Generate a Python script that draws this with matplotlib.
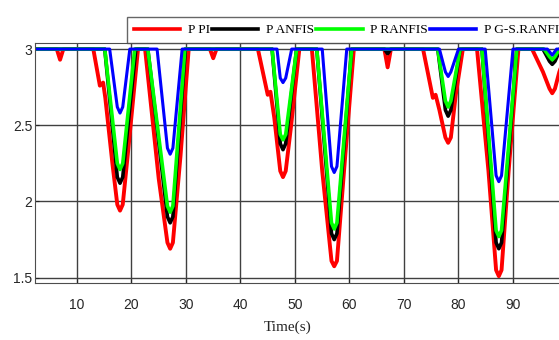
import matplotlib
matplotlib.use('Agg')
import matplotlib.pyplot as plt

## data (time in s, value)
t_pi = [2.3, 6.3, 6.9, 7.5, 13.0, 14.2, 14.8, 15.2, 16.5, 17.4, 17.9, 18.4, 19.3, 21.2,
        22.5, 25.0, 26.6, 27.1, 27.6, 29.0, 30.5, 34.4, 35.0, 35.6,
        43.2, 45.0, 45.5, 46.2, 47.3, 47.8, 48.3, 49.3, 50.8,
        53.1, 55.0, 56.7, 57.2, 57.7, 59.0, 60.8, 66.4, 67.0, 67.6,
        73.5, 75.3, 75.8, 76.5, 77.6, 78.1, 78.6, 79.5, 80.8,
        83.4, 85.5, 86.9, 87.4, 87.9, 89.2, 91.0, 93.5, 95.5, 96.7, 97.2, 97.7, 98.5, 100]
y_pi = [3, 3, 2.93, 3, 3, 2.76, 2.78, 2.68, 2.25, 1.98, 1.94, 1.98, 2.3, 3,
        3, 2.15, 1.73, 1.69, 1.73, 2.3, 3, 3, 2.94, 3,
        3, 2.70, 2.72, 2.55, 2.2, 2.16, 2.2, 2.5, 3,
        3, 2.2, 1.61, 1.575, 1.61, 2.2, 3, 3, 2.88, 3,
        3, 2.68, 2.70, 2.6, 2.42, 2.385, 2.42, 2.7, 3,
        3, 2.2, 1.55, 1.51, 1.55, 2.2, 3, 3, 2.85, 2.74, 2.71, 2.74, 2.85, 3]

t_anfis = [2.3, 15.1, 17.4, 17.9, 18.4, 20.8, 23.0, 26.6, 27.1, 27.6, 29.9,
           45.8, 47.3, 47.8, 48.3, 50.3, 54.0, 56.7, 57.2, 57.7, 60.4,
           66.4, 67.0, 67.6, 76.2, 77.6, 78.1, 78.6, 80.3,
           84.3, 86.9, 87.4, 87.9, 90.7, 95.5, 96.7, 97.2, 97.7, 98.7, 100]
y_anfis = [3, 3, 2.16, 2.12, 2.16, 3, 3, 1.9, 1.86, 1.9, 3,
           3, 2.38, 2.34, 2.38, 3, 3, 1.79, 1.75, 1.79, 3,
           3, 2.97, 3, 3, 2.6, 2.56, 2.6, 3,
           3, 1.73, 1.69, 1.73, 3, 3, 2.92, 2.9, 2.92, 3, 3]

t_ranfis = [2.3, 15.1, 17.4, 17.9, 18.4, 20.6, 23.0, 26.6, 27.1, 27.6, 29.8,
            45.8, 47.3, 47.8, 48.3, 50.3, 54.0, 56.7, 57.2, 57.7, 60.4,
            76.2, 77.6, 78.1, 78.6, 80.3,
            84.3, 86.9, 87.4, 87.9, 90.7, 95.7, 96.7, 97.2, 97.7, 98.5, 100]
y_ranfis = [3, 3, 2.25, 2.21, 2.25, 3, 3, 1.97, 1.93, 1.97, 3,
            3, 2.44, 2.405, 2.44, 3, 3, 1.86, 1.82, 1.86, 3,
            3, 2.66, 2.62, 2.66, 3,
            3, 1.81, 1.77, 1.81, 3, 3, 2.95, 2.93, 2.95, 3, 3]

t_gs = [2.3, 16.0, 17.4, 17.9, 18.4, 19.7, 24.7, 26.6, 27.1, 27.6, 29.3,
        46.7, 47.3, 47.8, 48.3, 49.4, 55.0, 56.7, 57.2, 57.7, 59.5,
        76.5, 77.6, 78.1, 78.6, 80.0,
        84.9, 86.9, 87.4, 87.9, 90.0, 96.3, 97.2, 98.0, 100]
y_gs = [3, 3, 2.62, 2.58, 2.62, 3, 3, 2.35, 2.31, 2.35, 3,
        3, 2.81, 2.78, 2.81, 3, 3, 2.23, 2.19, 2.23, 3,
        3, 2.85, 2.82, 2.85, 3,
        3, 2.17, 2.13, 2.17, 3, 3, 2.96, 3, 3]

labels = ['P PI', 'P ANFIS', 'P RANFIS', 'P G-S.RANFIS']
xticks = [10, 20, 30, 40, 50, 60, 70, 80, 90]
yticks = [1.5, 2, 2.5, 3]


def plot() :

    fig = plt.figure(figsize=(5.59, 3.40), dpi=100)
    ax = fig.add_axes([0.0626, 0.1676, 0.9526, 0.706])

    ax.plot(t_pi, y_pi, color='#ff0000', lw=2.8, label=labels[0])
    ax.plot(t_anfis, y_anfis, color='black', lw=2.6, label=labels[1])
    ax.plot(t_ranfis, y_ranfis, color='#00ff00', lw=2.6, label=labels[2])
    ax.plot(t_gs, y_gs, color='#0000ff', lw=2.2, label=labels[3])

    ax.set_xlim(2.3, 100)
    ax.set_ylim(1.465, 3.04)
    ax.set_xticks(xticks)
    ax.set_yticks(yticks)
    ax.set_yticklabels(['1.5', '2', '2.5', '3'])
    ax.grid(True, color='0.25', lw=1.0)
    ax.set_axisbelow(True)
    for s in ax.spines.values() :
        s.set_color('0.3')
    ax.tick_params(direction='in', labelsize=10, colors='0.15', length=3)
    ax.tick_params(axis='x', pad=11)
    ax.tick_params(axis='y', pad=2)
    for lbl in ax.get_xticklabels() + ax.get_yticklabels() :
        lbl.set_family('Liberation Sans')

    ax.set_xlabel('Time(s)', family='Liberation Serif', fontsize=11, color='0.15')
    ax.xaxis.set_label_coords(0.475, -0.155)

    leg = fig.legend(loc='lower left', bbox_to_anchor=(127/559, (340-43)/340),
                     ncol=4, frameon=True, fancybox=False, edgecolor='0.25',
                     prop={'family': 'Liberation Serif', 'size': 9.6},
                     handlelength=3.5, handletextpad=0.55, columnspacing=0.15,
                     borderpad=0.5, borderaxespad=0)
    leg.get_frame().set_linewidth(1.0)
    for h in leg.get_lines() :
        h.set_linewidth(2.6)

    plt.savefig('out.png', dpi=100)


if __name__ == '__main__' :

    plot()
